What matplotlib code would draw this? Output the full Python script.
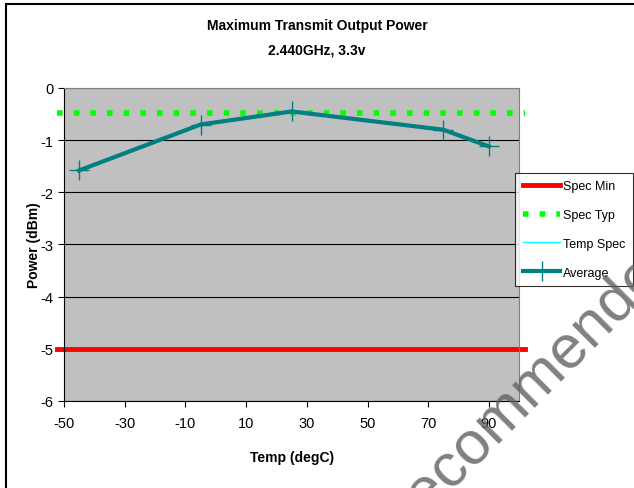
import matplotlib.pyplot as plt
from matplotlib.patches import Rectangle

# data
temps = [-45, -5, 25, 75, 90]
average = [-1.58, -0.70, -0.45, -0.80, -1.12]
spec_min = -5.0
spec_typ = -0.48
spec_x = [-52.3, 102]

plt.rcParams['font.family'] = ['Liberation Sans', 'DejaVu Sans']
plt.rcParams['axes.unicode_minus'] = False

fig = plt.figure(figsize=(6.34, 4.89), dpi=100)
ax = fig.add_axes([0.101, 0.178, 0.718, 0.640])
ax.set_facecolor('#C0C0C0')

l1, = ax.plot(spec_x, [spec_min, spec_min], color='#FF0000', lw=3.5, clip_on=False, label='Spec Min')
l2, = ax.plot(spec_x, [spec_typ, spec_typ], color='#00FF00', lw=4, ls=(0, (1, 2)), clip_on=False, label='Spec Typ')
l3, = ax.plot([], [], color='#00FFFF', lw=1, label='Temp Spec')
l4, = ax.plot(temps, average, color='#008080', lw=3, marker='+', ms=14, mew=1,
              label='Average')

ax.set_xlim(-50, 100)
ax.set_ylim(-6, 0)
ax.set_xticks(range(-50, 91, 20))
ax.set_yticks(range(-6, 1))
ax.yaxis.grid(True, color='black', lw=0.8)
ax.set_axisbelow(True)
for s in ['top', 'right']:
    ax.spines[s].set_color('#808080')
ax.spines['left'].set_color('black')
ax.spines['bottom'].set_color('black')
ax.tick_params(labelsize=10.5, length=4, direction='out')
ax.tick_params(axis='x', pad=7)

ax.set_xlabel('Temp (degC)', fontsize=10, fontweight='bold', labelpad=14)
ax.set_ylabel('Power (dBm)', fontsize=10, fontweight='bold', labelpad=0)
fig.text(0.5, 0.938, 'Maximum Transmit Output Power', ha='center', fontsize=10, fontweight='bold')
fig.text(0.5, 0.888, '2.440GHz, 3.3v', ha='center', fontsize=10, fontweight='bold')

leg = fig.legend(handles=[l1, l2, l3, l4], loc='upper left', bbox_to_anchor=(0.813, 0.645),
                 fontsize=9, frameon=True, fancybox=False, edgecolor='black',
                 handlelength=3.0, handletextpad=0.2, labelspacing=1.35, borderpad=0.6,
                 borderaxespad=0)
leg.get_frame().set_linewidth(0.8)

# outer chart border
fig.patches.append(Rectangle((0.009, -0.1), 1.2, 1.09, transform=fig.transFigure,
                             fill=False, edgecolor='black', lw=1.5))

# watermark across the lower right
fig.text(0.835, 0.21, 'Recommended', rotation=45, rotation_mode='anchor', fontsize=44,
         color='#606060', alpha=0.8, ha='center', va='center', zorder=10)

fig.savefig('out.png', dpi=100)
